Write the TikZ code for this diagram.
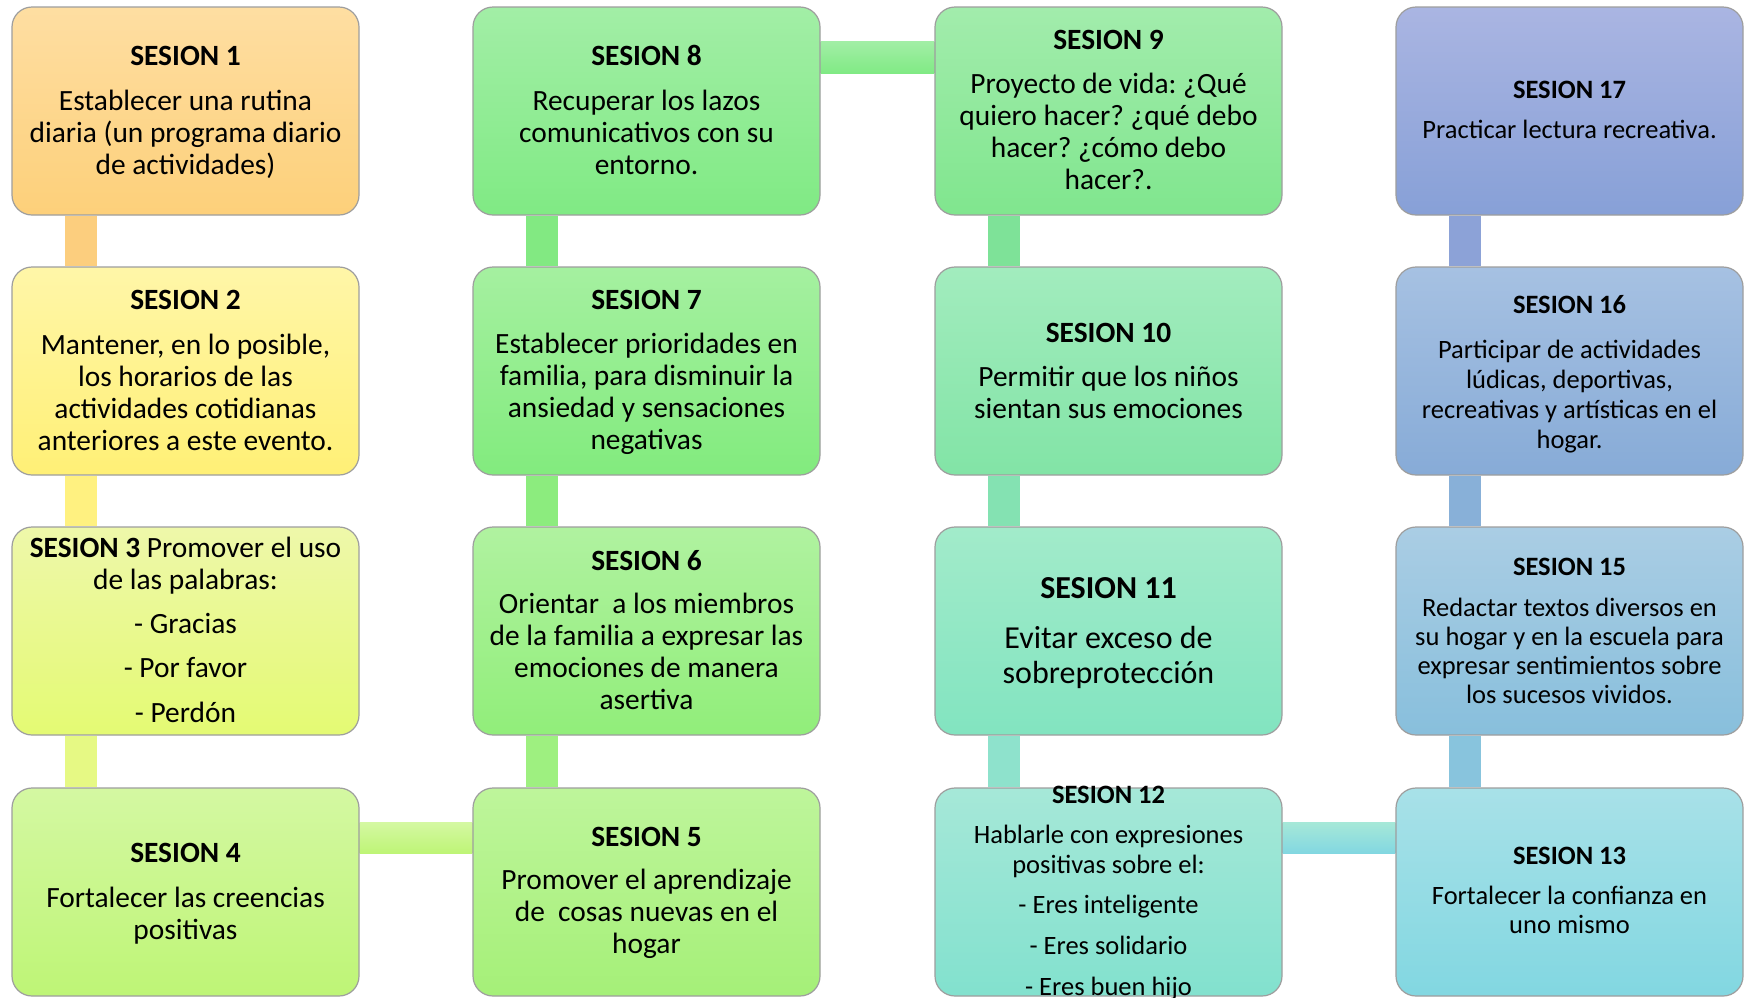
\documentclass[tikz,border=0pt]{standalone}
\usepackage{fontspec}
\setmainfont{Carlito}
\usetikzlibrary{backgrounds}
% box colours (top / bottom)
\definecolor{aT}{RGB}{254,222,162}\definecolor{aB}{RGB}{253,208,122}
\definecolor{bT}{RGB}{255,246,168}\definecolor{bB}{RGB}{255,240,118}
\definecolor{cT}{RGB}{238,248,170}\definecolor{cB}{RGB}{228,250,115}
\definecolor{dT}{RGB}{212,248,162}\definecolor{dB}{RGB}{190,245,118}
\definecolor{eT}{RGB}{190,245,155}\definecolor{eB}{RGB}{165,240,120}
\definecolor{fT}{RGB}{176,242,160}\definecolor{fB}{RGB}{145,238,122}
\definecolor{gT}{RGB}{165,240,160}\definecolor{gB}{RGB}{130,235,126}
\definecolor{hT}{RGB}{162,238,166}\definecolor{hB}{RGB}{128,234,132}
\definecolor{iT}{RGB}{162,236,172}\definecolor{iB}{RGB}{128,230,142}
\definecolor{jT}{RGB}{162,236,190}\definecolor{jB}{RGB}{130,228,166}
\definecolor{kT}{RGB}{162,235,202}\definecolor{kB}{RGB}{130,228,192}
\definecolor{lT}{RGB}{166,232,216}\definecolor{lB}{RGB}{130,225,206}
\definecolor{mT}{RGB}{168,225,232}\definecolor{mB}{RGB}{130,215,225}
\definecolor{oT}{RGB}{170,205,228}\definecolor{oB}{RGB}{136,191,220}
\definecolor{pT}{RGB}{166,193,226}\definecolor{pB}{RGB}{135,171,215}
\definecolor{qT}{RGB}{170,181,226}\definecolor{qB}{RGB}{135,160,215}
% connector colours
\definecolor{k12}{RGB}{252,206,126}
\definecolor{k23}{RGB}{255,241,128}
\definecolor{k34}{RGB}{230,249,132}
\definecolor{k56}{RGB}{158,240,128}
\definecolor{k67}{RGB}{140,236,126}
\definecolor{k78}{RGB}{130,233,130}
\definecolor{k910}{RGB}{126,226,152}
\definecolor{k1011}{RGB}{132,226,178}
\definecolor{k1112}{RGB}{142,226,204}
\definecolor{k1315}{RGB}{136,196,221}
\definecolor{k1516}{RGB}{136,176,216}
\definecolor{k1617}{RGB}{140,162,215}
\begin{document}
\frenchspacing
\begin{tikzpicture}[x=1pt,y=-1pt,
  sbox/.style={draw=black!38, line width=1.2pt, rounded corners=20pt,
    minimum width=347pt, minimum height=208pt, inner sep=0pt},
  txt/.style={anchor=base, inner sep=0pt, font=\fontsize{29.4}{32}\selectfont},
  stxt/.style={anchor=base, inner sep=0pt, font=\fontsize{26.5}{29.5}\selectfont},
  vbar/.style={line width=32pt}]
\useasboundingbox (0,0) rectangle (1744,997);

% ---- boxes ----
\node[sbox, top color=aT, bottom color=aB] (b1) at (185.5,111) {};
\node[sbox, top color=bT, bottom color=bB] (b2) at (185.5,371) {};
\node[sbox, top color=cT, bottom color=cB] (b3) at (185.5,631) {};
\node[sbox, top color=dT, bottom color=dB] (b4) at (185.5,892) {};
\node[sbox, top color=eT, bottom color=eB] (b5) at (646.5,892) {};
\node[sbox, top color=fT, bottom color=fB] (b6) at (646.5,631) {};
\node[sbox, top color=gT, bottom color=gB] (b7) at (646.5,371) {};
\node[sbox, top color=hT, bottom color=hB] (b8) at (646.5,111) {};
\node[sbox, top color=iT, bottom color=iB] (b9) at (1108.5,111) {};
\node[sbox, top color=jT, bottom color=jB] (b10) at (1108.5,371) {};
\node[sbox, top color=kT, bottom color=kB] (b11) at (1108.5,631) {};
\node[sbox, top color=lT, bottom color=lB] (b12) at (1108.5,892) {};
\node[sbox, top color=mT, bottom color=mB] (b13) at (1569.5,892) {};
\node[sbox, top color=oT, bottom color=oB] (b15) at (1569.5,631) {};
\node[sbox, top color=pT, bottom color=pB] (b16) at (1569.5,371) {};
\node[sbox, top color=qT, bottom color=qB] (b17) at (1569.5,111) {};

% ---- connectors ----
\begin{pgfonlayer}{background}
\fill[white] (0,0) rectangle (1744,997);
\draw[vbar, k12] ([xshift=70pt]b1.south west) -- ([xshift=70pt]b2.north west);
\draw[vbar, k23] ([xshift=70pt]b2.south west) -- ([xshift=70pt]b3.north west);
\draw[vbar, k34] ([xshift=70pt]b3.south west) -- ([xshift=70pt]b4.north west);
\path[top color=dT, bottom color=dB] ([yshift=-35pt]b4.north east) rectangle ([yshift=-66pt]b5.north west);
\draw[vbar, k56] ([xshift=70pt]b5.north west) -- ([xshift=70pt]b6.south west);
\draw[vbar, k67] ([xshift=70pt]b6.north west) -- ([xshift=70pt]b7.south west);
\draw[vbar, k78] ([xshift=70pt]b7.north west) -- ([xshift=70pt]b8.south west);
\path[top color=hT, bottom color=hB] ([yshift=-35pt]b8.north east) rectangle ([yshift=-67pt]b9.north west);
\draw[vbar, k910] ([xshift=70pt]b9.south west) -- ([xshift=70pt]b10.north west);
\draw[vbar, k1011] ([xshift=70pt]b10.south west) -- ([xshift=70pt]b11.north west);
\draw[vbar, k1112] ([xshift=70pt]b11.south west) -- ([xshift=70pt]b12.north west);
\path[top color=lT, bottom color=mB] ([yshift=-35pt]b12.north east) rectangle ([yshift=-66pt]b13.north west);
\draw[vbar, k1315] ([xshift=70pt]b13.north west) -- ([xshift=70pt]b15.south west);
\draw[vbar, k1516] ([xshift=70pt]b15.north west) -- ([xshift=70pt]b16.south west);
\draw[vbar, k1617] ([xshift=70pt]b16.north west) -- ([xshift=70pt]b17.south west);
\end{pgfonlayer}

% ---- texts ----
\node[txt] (t1) at (185.5,65) {\begin{tabular}[t]{@{}c@{}}\textbf{SESION 1}\\[13pt]Establecer una rutina\\diaria (un programa diario\\de actividades)\end{tabular}};
\node[txt] (t2) at (185.5,309) {\begin{tabular}[t]{@{}c@{}}\textbf{SESION 2}\\[13pt]Mantener, en lo posible,\\los horarios de las\\actividades cotidianas\\anteriores a este evento.\end{tabular}};
\node[txt] (t3) at (185.5,557) {\begin{tabular}[t]{@{}c@{}}\textbf{SESION 3} Promover el uso\\de las palabras:\\[12pt]- Gracias\\[12.5pt]- Por favor\\[12.5pt]- Perdón\end{tabular}};
\node[txt] (t4) at (185.5,862) {\begin{tabular}[t]{@{}c@{}}\textbf{SESION 4}\\[13pt]Fortalecer las creencias\\positivas\end{tabular}};
\node[txt] (t5) at (646.5,846) {\begin{tabular}[t]{@{}c@{}}\textbf{SESION 5}\\[11pt]Promover el aprendizaje\\de\ \ cosas nuevas en el\\hogar\end{tabular}};
\node[txt] (t6) at (646.5,570) {\begin{tabular}[t]{@{}c@{}}\textbf{SESION 6}\\[11pt]Orientar\ \ a los miembros\\de la familia a expresar las\\emociones de manera\\asertiva\end{tabular}};
\node[txt] (t7) at (646.5,309) {\begin{tabular}[t]{@{}c@{}}\textbf{SESION 7}\\[12pt]Establecer prioridades en\\familia, para disminuir la\\ansiedad y sensaciones\\negativas\end{tabular}};
\node[txt] (t8) at (646.5,65) {\begin{tabular}[t]{@{}c@{}}\textbf{SESION 8}\\[13pt]Recuperar los lazos\\comunicativos con su\\entorno.\end{tabular}};
\node[txt] (t9) at (1108.5,49) {\begin{tabular}[t]{@{}c@{}}\textbf{SESION 9}\\[12pt]Proyecto de vida: ¿Qué\\quiero hacer? ¿qué debo\\hacer? ¿cómo debo\\hacer?.\end{tabular}};
\node[txt] (t10) at (1108.5,342) {\begin{tabular}[t]{@{}c@{}}\textbf{SESION 10}\\[12pt]Permitir que los niños\\sientan sus emociones\end{tabular}};
\node[txt, font=\fontsize{32}{35}\selectfont] (t11) at (1108.5,598) {\begin{tabular}[t]{@{}c@{}}\textbf{SESION 11}\\[15pt]Evitar exceso de\\sobreprotección\end{tabular}};
\node[stxt, font=\fontsize{26.5}{30}\selectfont] (t12) at (1108.5,803) {\begin{tabular}[t]{@{}c@{}}\textbf{SESION 12}\\[10pt]Hablarle con expresiones\\positivas sobre el:\\[10pt]- Eres inteligente\\[11pt]- Eres solidario\\[11pt]- Eres buen hijo\end{tabular}};
\node[stxt, font=\fontsize{26.5}{29}\selectfont] (t13) at (1569.5,864) {\begin{tabular}[t]{@{}c@{}}\textbf{SESION 13}\\[11pt]Fortalecer la confianza en\\uno mismo\end{tabular}};
\node[stxt, font=\fontsize{26.5}{29}\selectfont] (t15) at (1569.5,575) {\begin{tabular}[t]{@{}c@{}}\textbf{SESION 15}\\[12pt]Redactar textos diversos en\\su hogar y en la escuela para\\expresar sentimientos sobre\\los sucesos vividos.\end{tabular}};
\node[stxt, font=\fontsize{26.5}{30}\selectfont] (t16) at (1569.5,313) {\begin{tabular}[t]{@{}c@{}}\textbf{SESION 16}\\[15pt]Participar de actividades\\lúdicas, deportivas,\\recreativas y artísticas en el\\hogar.\end{tabular}};
\node[stxt] (t17) at (1569.5,98) {\begin{tabular}[t]{@{}c@{}}\textbf{SESION 17}\\[10.5pt]Practicar lectura recreativa.\end{tabular}};
\end{tikzpicture}
\end{document}
